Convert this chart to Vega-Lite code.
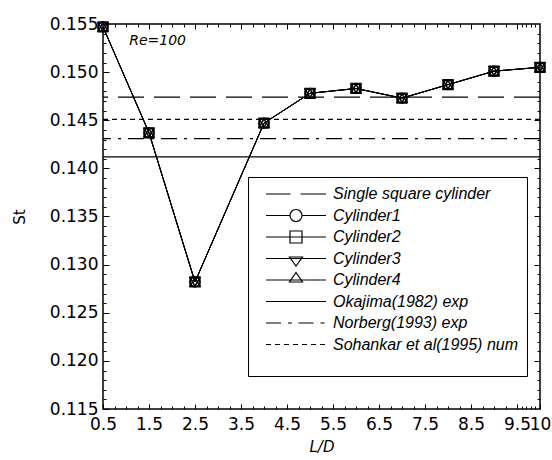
{
  "$schema": "https://vega.github.io/schema/vega-lite/v6.json",
  "width": 437,
  "height": 385,
  "autosize": "none",
  "padding": {"left": 103, "top": 24, "right": 12, "bottom": 51},
  "background": "white",
  "datasets": {
    "cyl": [
      {"series": "Cylinder1", "LD": 0.5, "St": 0.1547},
      {"series": "Cylinder1", "LD": 1.5, "St": 0.1437},
      {"series": "Cylinder1", "LD": 2.5, "St": 0.1282},
      {"series": "Cylinder1", "LD": 4, "St": 0.1447},
      {"series": "Cylinder1", "LD": 5, "St": 0.1478},
      {"series": "Cylinder1", "LD": 6, "St": 0.1483},
      {"series": "Cylinder1", "LD": 7, "St": 0.1473},
      {"series": "Cylinder1", "LD": 8, "St": 0.1487},
      {"series": "Cylinder1", "LD": 9, "St": 0.1501},
      {"series": "Cylinder1", "LD": 10, "St": 0.1505},
      {"series": "Cylinder2", "LD": 0.5, "St": 0.1547},
      {"series": "Cylinder2", "LD": 1.5, "St": 0.1437},
      {"series": "Cylinder2", "LD": 2.5, "St": 0.1282},
      {"series": "Cylinder2", "LD": 4, "St": 0.1447},
      {"series": "Cylinder2", "LD": 5, "St": 0.1478},
      {"series": "Cylinder2", "LD": 6, "St": 0.1483},
      {"series": "Cylinder2", "LD": 7, "St": 0.1473},
      {"series": "Cylinder2", "LD": 8, "St": 0.1487},
      {"series": "Cylinder2", "LD": 9, "St": 0.1501},
      {"series": "Cylinder2", "LD": 10, "St": 0.1505},
      {"series": "Cylinder3", "LD": 0.5, "St": 0.1547},
      {"series": "Cylinder3", "LD": 1.5, "St": 0.1437},
      {"series": "Cylinder3", "LD": 2.5, "St": 0.1282},
      {"series": "Cylinder3", "LD": 4, "St": 0.1447},
      {"series": "Cylinder3", "LD": 5, "St": 0.1478},
      {"series": "Cylinder3", "LD": 6, "St": 0.1483},
      {"series": "Cylinder3", "LD": 7, "St": 0.1473},
      {"series": "Cylinder3", "LD": 8, "St": 0.1487},
      {"series": "Cylinder3", "LD": 9, "St": 0.1501},
      {"series": "Cylinder3", "LD": 10, "St": 0.1505},
      {"series": "Cylinder4", "LD": 0.5, "St": 0.1547},
      {"series": "Cylinder4", "LD": 1.5, "St": 0.1437},
      {"series": "Cylinder4", "LD": 2.5, "St": 0.1282},
      {"series": "Cylinder4", "LD": 4, "St": 0.1447},
      {"series": "Cylinder4", "LD": 5, "St": 0.1478},
      {"series": "Cylinder4", "LD": 6, "St": 0.1483},
      {"series": "Cylinder4", "LD": 7, "St": 0.1473},
      {"series": "Cylinder4", "LD": 8, "St": 0.1487},
      {"series": "Cylinder4", "LD": 9, "St": 0.1501},
      {"series": "Cylinder4", "LD": 10, "St": 0.1505}
    ],
    "ref": [
      {"series": "Single square cylinder", "St": 0.1474},
      {"series": "Okajima(1982) exp", "St": 0.1412},
      {"series": "Norberg(1993) exp", "St": 0.1431},
      {"series": "Sohankar et al(1995) num", "St": 0.1451}
    ],
    "key": [
      {"series": "Single square cylinder"},
      {"series": "Cylinder1"},
      {"series": "Cylinder2"},
      {"series": "Cylinder3"},
      {"series": "Cylinder4"},
      {"series": "Okajima(1982) exp"},
      {"series": "Norberg(1993) exp"},
      {"series": "Sohankar et al(1995) num"}
    ],
    "note": [{"LD": 1.07, "St": 0.1532, "label": "Re=100"}]
  },
  "config": {
    "font": "DejaVu Sans",
    "view": {"stroke": "black", "strokeWidth": 1.5},
    "axis": {
      "domain": false,
      "grid": false,
      "tickColor": "black",
      "tickWidth": 1,
      "labelColor": "black",
      "labelFont": "DejaVu Sans",
      "labelFontSize": 17,
      "titleColor": "black",
      "titleFont": "DejaVu Sans",
      "titleFontWeight": "normal",
      "titleFontSize": 15,
      "labelOverlap": false,
      "labelFlush": false
    }
  },
  "resolve": {
    "axis": {"x": "independent", "y": "independent"},
    "scale": {"shape": "independent"},
    "legend": {"shape": "independent"}
  },
  "layer": [
    {
      "data": {"name": "ref"},
      "mark": {"type": "rule", "color": "black", "strokeWidth": 1.2},
      "encoding": {
        "y": {
          "field": "St",
          "type": "quantitative",
          "scale": {"domain": [0.115, 0.155], "nice": false, "zero": false},
          "axis": {
            "orient": "left",
            "values": [0.115, 0.12, 0.125, 0.13, 0.135, 0.14, 0.145, 0.15, 0.155],
            "format": ".3f",
            "tickSize": -6,
            "labelPadding": 11,
            "title": "St",
            "titlePadding": 22
          }
        },
        "strokeDash": {
          "field": "series",
          "type": "nominal",
          "scale": {
            "domain": ["Single square cylinder", "Okajima(1982) exp", "Norberg(1993) exp", "Sohankar et al(1995) num"],
            "range": [[26, 10], [1, 0], [16, 7, 3, 7], [5, 4]]
          },
          "legend": null
        }
      }
    },
    {
      "data": {"name": "cyl"},
      "mark": {"type": "line", "color": "black", "strokeWidth": 1},
      "encoding": {
        "x": {
          "field": "LD",
          "type": "quantitative",
          "scale": {"domain": [0.5, 10], "nice": false, "zero": false},
          "axis": {
            "orient": "bottom",
            "values": [0.5, 1.5, 2.5, 3.5, 4.5, 5.5, 6.5, 7.5, 8.5, 9.5, 10],
            "format": ".1~f",
            "tickSize": -5,
            "labelPadding": 12,
            "title": "L/D",
            "titleFontStyle": "italic",
            "titlePadding": 7
          }
        },
        "y": {
          "field": "St",
          "type": "quantitative",
          "axis": {
            "orient": "right",
            "values": [0.12, 0.125, 0.13, 0.135, 0.14, 0.145, 0.15],
            "tickSize": -6,
            "labels": false,
            "title": null
          }
        },
        "detail": {"field": "series", "type": "nominal"}
      }
    },
    {
      "data": {"name": "cyl"},
      "mark": {"type": "point", "filled": false, "color": "black", "strokeWidth": 1.5, "size": 95, "opacity": 1},
      "encoding": {
        "x": {
          "field": "LD",
          "type": "quantitative",
          "axis": {
            "orient": "top",
            "values": [1.5, 2.5, 3.5, 4.5, 5.5, 6.5, 7.5, 8.5, 9.5],
            "tickSize": -5,
            "labels": false,
            "title": null
          }
        },
        "y": {
          "field": "St",
          "type": "quantitative",
          "axis": {
            "orient": "left",
            "values": [0.116, 0.117, 0.118, 0.119, 0.121, 0.122, 0.123, 0.124, 0.126, 0.127, 0.128, 0.129, 0.131, 0.132, 0.133, 0.134, 0.136, 0.137, 0.138, 0.139, 0.141, 0.142, 0.143, 0.144, 0.146, 0.147, 0.148, 0.149, 0.151, 0.152, 0.153, 0.154],
            "tickSize": -3,
            "labels": false,
            "title": null
          }
        },
        "shape": {
          "field": "series",
          "type": "nominal",
          "scale": {
            "domain": ["Cylinder1", "Cylinder2", "Cylinder3", "Cylinder4"],
            "range": ["circle", "square", "triangle-down", "triangle-up"]
          },
          "legend": null
        }
      }
    },
    {
      "data": {"name": "key"},
      "mark": {"type": "point", "filled": false, "color": "black", "strokeWidth": 1.2, "opacity": 1},
      "encoding": {
        "x": {
          "field": "LD",
          "type": "quantitative",
          "axis": {
            "orient": "bottom",
            "values": [0.75, 1, 1.25, 1.75, 2, 2.25, 2.75, 3, 3.25, 3.75, 4, 4.25, 4.75, 5, 5.25, 5.75, 6, 6.25, 6.75, 7, 7.25, 7.75, 8, 8.25, 8.75, 9, 9.25, 9.6, 9.7, 9.8, 9.9],
            "tickSize": -3,
            "labels": false,
            "title": null
          }
        },
        "y": {
          "field": "St",
          "type": "quantitative",
          "axis": {
            "orient": "right",
            "values": [0.116, 0.117, 0.118, 0.119, 0.121, 0.122, 0.123, 0.124, 0.126, 0.127, 0.128, 0.129, 0.131, 0.132, 0.133, 0.134, 0.136, 0.137, 0.138, 0.139, 0.141, 0.142, 0.143, 0.144, 0.146, 0.147, 0.148, 0.149, 0.151, 0.152, 0.153, 0.154],
            "tickSize": -3,
            "labels": false,
            "title": null
          }
        },
        "shape": {
          "field": "series",
          "type": "nominal",
          "scale": {
            "domain": ["Single square cylinder", "Cylinder1", "Cylinder2", "Cylinder3", "Cylinder4", "Okajima(1982) exp", "Norberg(1993) exp", "Sohankar et al(1995) num"],
            "range": [
              "M0,-1.5M0,1.5M-6,0H-1.1M0.9,0H6",
              "M0,-1.5M0,1.5M-6,0H-1.2M1.2,0H6M-1.2,0A1.2,1.2 0 1,0 1.2,0A1.2,1.2 0 1,0 -1.2,0",
              "M0,-1.5M0,1.5M-6,0H6M-1.2,-1.2H1.2V1.2H-1.2Z",
              "M0,-1.5M0,1.5M-6,0H6M-1.3,-0.3H1.3L0,1.5Z",
              "M0,-1.5M0,1.5M-6,0H6M-1.3,0.4H1.3L0,-1.5Z",
              "M0,-1.5M0,1.5M-6,0H6",
              "M0,-1.5M0,1.5M-6,0H-3M-1.6,0H-0.8M0.5,0H3.5M4.9,0H5.7",
              "M0,-1.5M0,1.5M-6,0H-5M-4.2,0H-3.2M-2.4,0H-1.4M-0.6,0H0.4M1.2,0H2.2M3,0H4M4.8,0H5.8"
            ]
          },
          "legend": {
            "orient": "none",
            "legendX": 145,
            "legendY": 153,
            "title": " ",
            "titleOrient": "bottom",
            "titleFontSize": 12,
            "titlePadding": 2,
            "strokeColor": "black",
            "padding": 9,
            "columnPadding": 0,
            "symbolSize": 100,
            "symbolOffset": 31,
            "symbolStrokeWidth": 1.2,
            "symbolStrokeColor": "black",
            "symbolOpacity": 1,
            "labelOffset": 29,
            "labelFont": "Liberation Sans",
            "labelFontStyle": "italic",
            "labelFontSize": 16,
            "labelColor": "black",
            "labelLimit": 300,
            "rowPadding": 1.5
          }
        }
      }
    },
    {
      "data": {"name": "note"},
      "mark": {"type": "text", "align": "left", "baseline": "middle", "fontStyle": "italic", "fontSize": 14, "color": "black"},
      "encoding": {
        "x": {
          "field": "LD",
          "type": "quantitative",
          "axis": {
            "orient": "top",
            "values": [0.75, 1, 1.25, 1.75, 2, 2.25, 2.75, 3, 3.25, 3.75, 4, 4.25, 4.75, 5, 5.25, 5.75, 6, 6.25, 6.75, 7, 7.25, 7.75, 8, 8.25, 8.75, 9, 9.25, 9.6, 9.7, 9.8, 9.9],
            "tickSize": -3,
            "labels": false,
            "title": null
          }
        },
        "y": {"field": "St", "type": "quantitative", "axis": null},
        "text": {"field": "label"}
      }
    }
  ]
}
